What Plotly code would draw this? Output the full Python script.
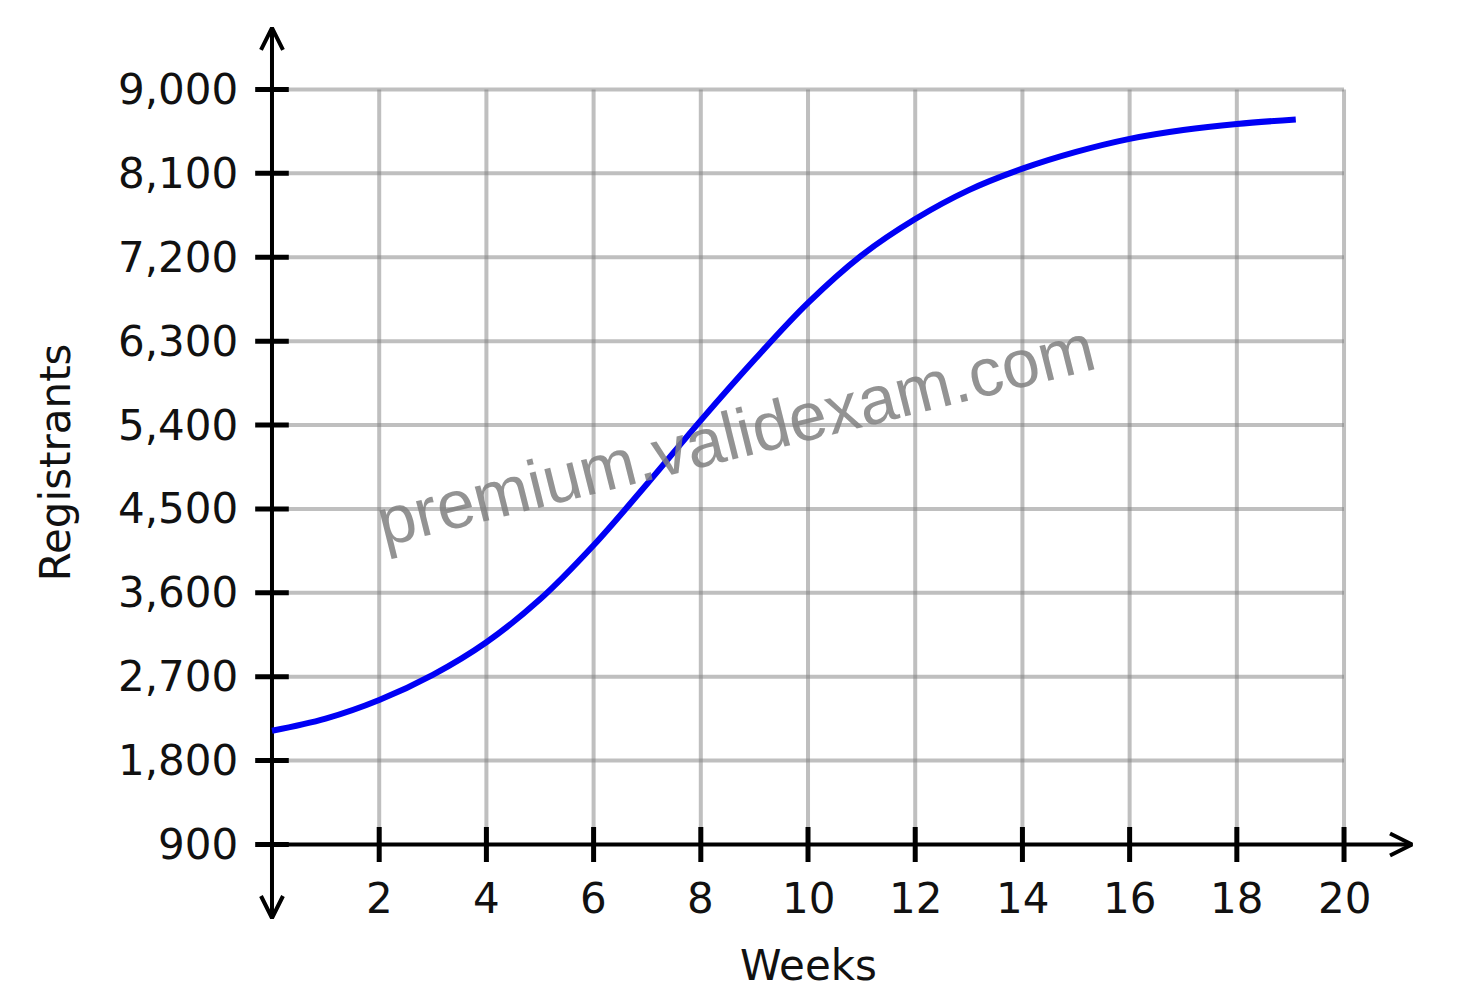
import plotly.graph_objects as go

# ---- data ----
weeks = [0, 1, 2, 3, 4, 5, 6, 7, 8, 9, 10, 11, 12, 13, 14, 15, 16, 17, 18, 19.1]
registrants = [2120, 2250, 2450, 2720, 3070, 3530, 4110, 4770, 5450, 6100,
               6710, 7220, 7610, 7920, 8150, 8330, 8470, 8565, 8630, 8678]

x_ticks = [2, 4, 6, 8, 10, 12, 14, 16, 18, 20]
x_tick_labels = ["2", "4", "6", "8", "10", "12", "14", "16", "18", "20"]
y_ticks = [900, 1800, 2700, 3600, 4500, 5400, 6300, 7200, 8100, 9000]
y_tick_labels = ["900", "1,800", "2,700", "3,600", "4,500", "5,400",
                 "6,300", "7,200", "8,100", "9,000"]
x_title = "Weeks"
y_title = "Registrants"
watermark = "premium.validexam.com"

# ---- layout geometry (page has an 8px body margin) ----
W, H = 1462, 989
X_RANGE = [-4.925, 22.35]
Y_RANGE = [-736, 9874]
px_x = (X_RANGE[1] - X_RANGE[0]) / W   # data units per pixel (x)
px_y = (Y_RANGE[1] - Y_RANGE[0]) / H   # data units per pixel (y)

x_min, x_max = 0, x_ticks[-1]
y_min, y_max = y_ticks[0], y_ticks[-1]

FONT = "DejaVu Sans"
GRID = "rgba(128,128,128,0.5)"

fig = go.Figure()

# vertical grid lines
gx, gy = [], []
for t in x_ticks:
    gx += [t, t, None]
    gy += [y_min, y_max, None]
fig.add_trace(go.Scatter(x=gx, y=gy, mode="lines",
                         line=dict(color=GRID, width=4), hoverinfo="skip"))
# horizontal grid lines
hx, hy = [], []
for t in y_ticks[1:]:
    hx += [x_min, x_max, None]
    hy += [t, t, None]
fig.add_trace(go.Scatter(x=hx, y=hy, mode="lines",
                         line=dict(color=GRID, width=4), hoverinfo="skip"))

# axes with arrow heads
y_top = y_max + 61.5 * px_y
y_bot = y_min - 73.5 * px_y
x_right = x_max + 68 * px_x
ah_len, ah_w = 22, 11
ax_x = [0, 0, None, x_min, x_right, None,
        -ah_w * px_x, 0, ah_w * px_x, None,
        -ah_w * px_x, 0, ah_w * px_x, None,
        x_right - ah_len * px_x, x_right, x_right - ah_len * px_x]
ax_y = [y_bot, y_top, None, y_min, y_min, None,
        y_top - ah_len * px_y, y_top, y_top - ah_len * px_y, None,
        y_bot + ah_len * px_y, y_bot, y_bot + ah_len * px_y, None,
        y_min + ah_w * px_y, y_min, y_min - ah_w * px_y]
fig.add_trace(go.Scatter(x=ax_x, y=ax_y, mode="lines",
                         line=dict(color="black", width=4), hoverinfo="skip"))

# tick marks crossing the axes
fig.add_trace(go.Scatter(x=x_ticks, y=[y_min] * len(x_ticks), mode="markers",
                         marker=dict(symbol="line-ns-open", size=25, color="black",
                                     line=dict(color="black", width=5)),
                         hoverinfo="skip"))
fig.add_trace(go.Scatter(x=[0] * len(y_ticks), y=y_ticks, mode="markers",
                         marker=dict(symbol="line-ew-open", size=24, color="black",
                                     line=dict(color="black", width=5)),
                         hoverinfo="skip"))

# the curve
fig.add_trace(go.Scatter(x=weeks, y=registrants, mode="lines",
                         line=dict(color="rgb(0,0,245)", width=6, shape="spline", smoothing=1.0),
                         name="Registrants"))

annotations = []
for t, lab in zip(y_ticks, y_tick_labels):
    annotations.append(dict(x=0, y=t, xref="x", yref="y", text=lab, showarrow=False,
                            xanchor="right", yanchor="middle", xshift=-32,
                            font=dict(family=FONT, size=42, color="#111")))
for t, lab in zip(x_ticks, x_tick_labels):
    annotations.append(dict(x=t, y=y_min, xref="x", yref="y", text=lab, showarrow=False,
                            xanchor="center", yanchor="middle", yshift=-54,
                            font=dict(family=FONT, size=42, color="#111")))
annotations.append(dict(x=10, y=y_min, xref="x", yref="y", text=x_title, showarrow=False,
                        xanchor="center", yanchor="middle", yshift=-121,
                        font=dict(family=FONT, size=42, color="#111")))
annotations.append(dict(x=0, y=5000, xref="x", yref="y", text=y_title, showarrow=False,
                        xanchor="center", yanchor="middle", xshift=-217, textangle=-90,
                        font=dict(family=FONT, size=42, color="#111")))
annotations.append(dict(x=8.65, y=5300, xref="x", yref="y", text=watermark, showarrow=False,
                        xanchor="center", yanchor="middle", textangle=-14,
                        font=dict(family="Liberation Sans", size=68,
                                  color="rgba(128,128,128,0.85)")))

fig.update_layout(
    width=W, height=H,
    margin=dict(l=0, r=0, t=0, b=0),
    paper_bgcolor="white", plot_bgcolor="white",
    showlegend=False,
    xaxis=dict(range=X_RANGE, visible=False, fixedrange=True),
    yaxis=dict(range=Y_RANGE, visible=False, fixedrange=True),
    annotations=annotations,
)

fig.write_html("out.html")
